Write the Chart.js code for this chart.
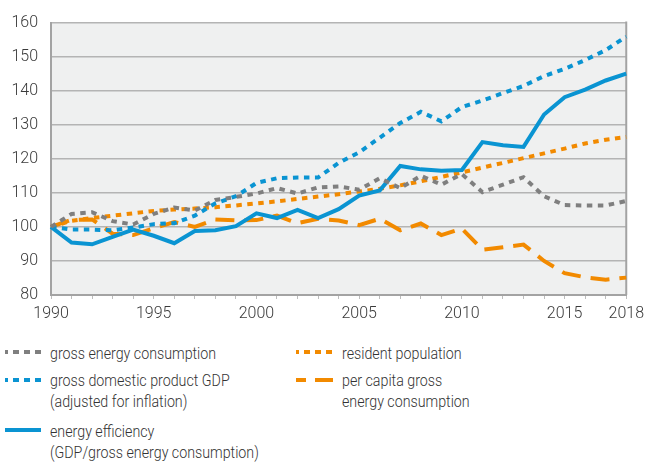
<!DOCTYPE html>
<html>
<head>
<meta charset="utf-8">
<script src="https://cdn.jsdelivr.net/npm/chart.js@4/dist/chart.umd.min.js"></script>
<style>
  html, body { margin:0; padding:0; background:#fff; }
  body { width:649px; height:463px; position:relative; overflow:hidden; font-family:'Roboto', sans-serif; font-weight:300; color:#333; }
  #wrap { position:absolute; left:0; top:0; width:649px; height:330px; }
  .item { position:absolute; font-size:16px; line-height:21.5px; white-space:nowrap; transform:scaleX(0.89); transform-origin:0 0; }
  .sw { position:absolute; height:4px; }
</style>
</head>
<body>
<div id="wrap"><canvas id="c"></canvas></div>
<div id="legend"></div>
<script>
// ---- data ----
const years = [1990,1991,1992,1993,1994,1995,1996,1997,1998,1999,2000,2001,2002,2003,2004,2005,2006,2007,2008,2009,2010,2011,2012,2013,2014,2015,2016,2017,2018];
const labelYears = [1990,1995,2000,2005,2010,2015,2018];
const yTicks = [80,90,100,110,120,130,140,150,160];

const grossEnergy = [100,103.8,104.3,101.7,100.7,103.8,105.7,104.8,107.9,108.8,109.8,111.4,109.8,111.6,111.9,110.9,114.3,111.4,115.0,112.4,115.5,110.2,112.4,114.6,109.0,106.4,106.3,106.3,107.6];
const gdp = [100,99.2,99.2,99.0,99.8,100.8,101.1,103.3,106.9,109.0,112.9,114.3,114.5,114.5,118.8,121.9,126.2,130.5,133.8,131.0,135.2,137.1,139.3,141.4,144.3,146.4,149.0,151.9,155.9];
const efficiency = [100,95.4,94.9,97.1,99.2,97.4,95.2,98.8,99.0,100.2,104.0,102.6,105.0,102.6,105.2,109.2,110.7,117.9,116.9,116.5,116.7,124.9,124.0,123.5,133.0,138.1,140.3,143.0,145.0];
const population = [100,101.8,102.6,103.3,104.0,104.7,105.1,105.4,105.8,106.3,106.9,107.5,108.2,108.9,109.6,110.4,111.2,112.2,113.4,114.7,116.0,117.4,118.8,120.2,121.6,123.0,124.5,125.6,126.4];
const perCapita = [100,102.1,102.2,98.0,97.6,99.6,101.4,100.0,102.2,101.9,102.0,103.3,101.1,102.4,101.9,100.5,102.4,99.0,101.0,97.6,99.5,93.3,94.0,94.8,90.0,86.4,85.2,84.5,85.1];

const seriesNames = [
  ['gross energy consumption'],
  ['gross domestic product GDP','(adjusted for inflation)'],
  ['energy efficiency','(GDP/gross energy consumption)'],
  ['resident population'],
  ['per capita gross','energy consumption']
];

const GRAY = '#7f7f7f', BLUE = '#0a94d2', ORANGE = '#f28a00';

const bgPlugin = {
  id: 'bg',
  beforeDraw(chart) {
    const {ctx, chartArea: a} = chart;
    ctx.save();
    ctx.fillStyle = '#eff0f0';
    ctx.fillRect(a.left, a.top, a.right - a.left, a.bottom - a.top);
    ctx.restore();
  },
  beforeDatasetsDraw(chart) {
    const {ctx, chartArea: a} = chart;
    ctx.save();
    ctx.strokeStyle = '#a3a3a3';
    ctx.lineWidth = 2;
    ctx.beginPath();
    ctx.moveTo(a.right, a.top - 1);
    ctx.lineTo(a.right, a.bottom);
    ctx.stroke();
    ctx.restore();
  }
};

const common = { pointRadius: 0, pointHoverRadius: 0, tension: 0, fill: false, borderWidth: 4, borderCapStyle: 'butt', borderJoinStyle: 'miter' };

new Chart(document.getElementById('c'), {
  type: 'line',
  data: {
    labels: years,
    datasets: [
      Object.assign({ label: seriesNames[0].join(' '), data: grossEnergy, borderColor: GRAY, borderDash: [5.5, 5.5] }, common),
      Object.assign({ label: seriesNames[1].join(' '), data: gdp, borderColor: BLUE, borderDash: [5.5, 5.5] }, common),
      Object.assign({ label: seriesNames[2].join(' '), data: efficiency, borderColor: BLUE }, common),
      Object.assign({ label: seriesNames[3].join(' '), data: population, borderColor: ORANGE, borderDash: [5.5, 5.5] }, common),
      Object.assign({ label: seriesNames[4].join(' '), data: perCapita, borderColor: ORANGE, borderDash: [19, 10] }, common)
    ]
  },
  options: {
    responsive: true,
    maintainAspectRatio: false,
    animation: false,
    layout: { padding: { top: 15, right: 20, left: 0, bottom: 0 } },
    plugins: { legend: { display: false }, tooltip: { enabled: false } },
    scales: {
      x: {
        type: 'category',
        offset: false,
        grid: { drawOnChartArea: false, drawTicks: true, tickLength: 4, color: '#bdbdbd', lineWidth: 1, offset: false },
        border: { display: true, color: '#a3a3a3', width: 2 },
        ticks: {
          autoSkip: false, maxRotation: 0, minRotation: 0, padding: 5,
          color: '#3a3a3a', font: { family: 'Roboto', size: 16, weight: 300 },
          callback: function(val, idx) { const y = years[idx]; return labelYears.includes(y) ? String(y) : ''; }
        },
        afterFit: s => { s.height = 35; }
      },
      y: {
        min: 80, max: 160,
        afterBuildTicks: axis => { axis.ticks = yTicks.map(v => ({ value: v })); },
        grid: { color: '#b4b4b4', lineWidth: 1.5, drawTicks: false },
        border: { display: true, color: '#a3a3a3', width: 2 },
        ticks: { padding: 13, color: '#3a3a3a', font: { family: 'Roboto', size: 16, weight: 300 } },
        afterFit: s => { s.width = 51; }
      }
    }
  },
  plugins: [bgPlugin]
});

// ---- HTML legend ----
const legendItems = [
  { name: seriesNames[0], left: 50, top: 342.8, sw: { left: 5, top: 350, w: 36, bg: `repeating-linear-gradient(to right, ${GRAY} 0 3px, transparent 3px 8.5px, ${GRAY} 8.5px 11px)` } },
  { name: seriesNames[1], left: 50, top: 369.8, sw: { left: 5, top: 377.5, w: 36, bg: `repeating-linear-gradient(to right, ${BLUE} 0 3px, transparent 3px 8.5px, ${BLUE} 8.5px 11px)` } },
  { name: seriesNames[2], left: 50, top: 420.8, sw: { left: 5, top: 428, w: 36, bg: BLUE } },
  { name: seriesNames[3], left: 342, top: 342.8, sw: { left: 296, top: 350, w: 37, bg: `repeating-linear-gradient(to right, ${ORANGE} 0 3px, transparent 3px 8.5px, ${ORANGE} 8.5px 11px)` } },
  { name: seriesNames[4], left: 342, top: 369.8, sw: { left: 296, top: 377.5, w: 37, bg: `linear-gradient(to right, ${ORANGE} 0 10px, transparent 10px 19px, ${ORANGE} 19px 37px)` } }
];
const lg = document.getElementById('legend');
legendItems.forEach(it => {
  const d = document.createElement('div');
  d.className = 'item';
  d.style.left = it.left + 'px';
  d.style.top = it.top + 'px';
  d.innerHTML = it.name.join('<br>');
  lg.appendChild(d);
  const s = document.createElement('div');
  s.className = 'sw';
  s.style.left = it.sw.left + 'px';
  s.style.top = it.sw.top + 'px';
  s.style.width = it.sw.w + 'px';
  s.style.background = it.sw.bg;
  lg.appendChild(s);
});
</script>
</body>
</html>
